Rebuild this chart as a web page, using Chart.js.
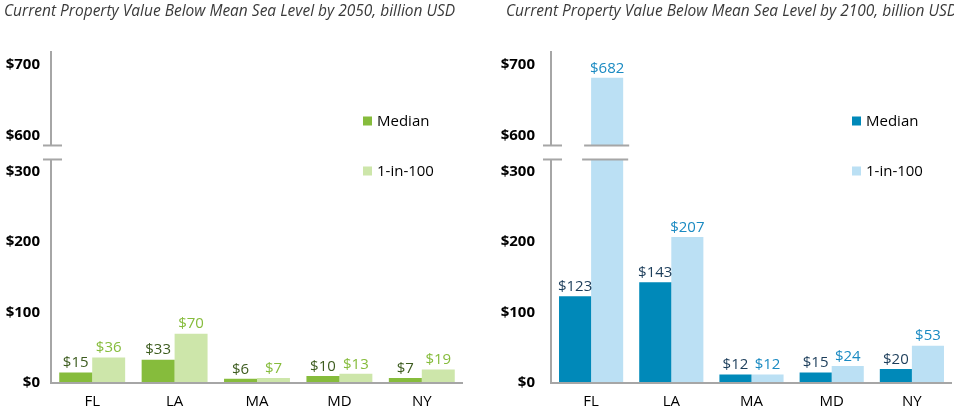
<!DOCTYPE html>
<html>
<head>
<meta charset="utf-8">
<script src="https://cdn.jsdelivr.net/npm/chart.js@4.4.1/dist/chart.umd.min.js"></script>
<style>
  html, body { margin: 0; padding: 0; background: #fff; }
  #wrap { display: flex; width: 954px; height: 409px; overflow: hidden; }
  .panel { width: 477px; height: 409px; position: relative; }
  canvas { display: block; }
</style>
</head>
<body>
<div id="wrap">
  <div class="panel"><canvas id="c1" width="477" height="409"></canvas></div>
  <div class="panel"><canvas id="c2" width="477" height="409"></canvas></div>
</div>
<script>
// ---- data ----
const categories = ['FL', 'LA', 'MA', 'MD', 'NY'];
const seriesNames = ['Median', '1-in-100'];
const median2050 = [15, 33, 6, 10, 7];
const flood2050 = [36, 70, 7, 13, 19];
const median2100 = [123, 143, 12, 15, 20];
const flood2100 = [682, 207, 12, 24, 53];
const yTickValues = [0, 100, 200, 300, 600, 700];
const title2050 = 'Current Property Value Below Mean Sea Level by 2050, billion USD';
const title2100 = 'Current Property Value Below Mean Sea Level by 2100, billion USD';

// ---- broken linear scale ----
class BrokenScale extends Chart.LinearScale {
  buildTicks() {
    return this.options.tickValues.map(v => ({ value: v }));
  }
  _k() {
    const o = this.options;
    return (this.bottom - this.top - o.gapPx) / ((o.lowMax - this.min) + (this.max - o.highMin));
  }
  getPixelForValue(v) {
    if (v === null || v === undefined || isNaN(v)) return NaN;
    const o = this.options, k = this._k();
    if (v <= o.lowMax) return this.bottom - (v - this.min) * k;
    if (v >= o.highMin) return this.top + (this.max - v) * k;
    const yLow = this.bottom - (o.lowMax - this.min) * k;
    return yLow - (v - o.lowMax) / (o.highMin - o.lowMax) * o.gapPx;
  }
  getValueForPixel(p) {
    const o = this.options, k = this._k();
    const yLow = this.bottom - (o.lowMax - this.min) * k;
    const yHigh = yLow - o.gapPx;
    if (p >= yLow) return this.min + (this.bottom - p) / k;
    if (p <= yHigh) return this.max - (p - this.top) / k;
    return o.lowMax + (yLow - p) / o.gapPx * (o.highMin - o.lowMax);
  }
}
BrokenScale.id = 'broken';
BrokenScale.defaults = Chart.LinearScale.defaults;
Chart.register(BrokenScale);

const AXIS_COLOR = '#a6a6a6';

const decorPlugin = {
  id: 'decor',
  afterDatasetsDraw(chart) {
    const ctx = chart.ctx;
    const ys = chart.scales.y;
    const o = ys.options;
    const pHigh = ys.getPixelForValue(o.highMin);
    const pLow = ys.getPixelForValue(o.lowMax);
    const { left, right, top, bottom } = chart.chartArea;
    ctx.save();
    const hline = (x1, x2, y) => {
      ctx.beginPath(); ctx.moveTo(x1, y); ctx.lineTo(x2, y); ctx.stroke();
    };
    ctx.strokeStyle = AXIS_COLOR;
    ctx.lineWidth = 2;
    // breaks on tall bars
    chart.data.datasets.forEach((ds, i) => {
      const meta = chart.getDatasetMeta(i);
      meta.data.forEach((bar, j) => {
        if (ds.data[j] > o.lowMax) {
          const w = bar.width, bx = bar.x - w / 2;
          ctx.fillStyle = '#fff';
          ctx.fillRect(bx - 1, pHigh, w + 2, pLow - pHigh);
          hline(bx - 7, bx + w + 6, pHigh);
          hline(bx - 9, bx + w + 5, pLow);
        }
      });
    });
    // y axis with break
    ctx.beginPath(); ctx.moveTo(left, top); ctx.lineTo(left, pHigh); ctx.stroke();
    ctx.beginPath(); ctx.moveTo(left, pLow); ctx.lineTo(left, bottom); ctx.stroke();
    hline(left - 8, left + 11, pHigh);
    hline(left - 8, left + 11, pLow);
    // x axis
    hline(left - 1, right, bottom);

    // data labels
    ctx.font = '15px "Open Sans"';
    ctx.textAlign = 'center';
    ctx.textBaseline = 'bottom';
    chart.data.datasets.forEach((ds, i) => {
      const meta = chart.getDatasetMeta(i);
      ctx.fillStyle = ds.labelColor;
      meta.data.forEach((bar, j) => {
        ctx.fillText('$' + ds.data[j], bar.x, bar.y - 2);
      });
    });

    // legend
    ctx.textAlign = 'left';
    ctx.textBaseline = 'middle';
    ctx.font = '15px "Open Sans"';
    chart.data.datasets.forEach((ds, i) => {
      const lx = right - 100;
      const ly = top + 70 + i * 50;
      ctx.fillStyle = ds.backgroundColor;
      ctx.fillRect(lx, ly - 4.5, 9, 9);
      ctx.fillStyle = '#000';
      ctx.fillText(ds.label, lx + 14, ly + 1);
    });

    // title
    const t = chart.options.plugins.decor;
    ctx.font = 'italic 15.5px "Open Sans"';
    ctx.fillStyle = '#3a3a3a';
    ctx.textBaseline = 'alphabetic';
    ctx.fillText(t.text, t.x, 16);
    ctx.restore();
  }
};

function makeChart(id, med, flood, colors, title, titleX, axisW, padRight, tickPad) {
  return new Chart(document.getElementById(id), {
    type: 'bar',
    data: {
      labels: categories,
      datasets: [
        { label: seriesNames[0], data: med, backgroundColor: colors[0], labelColor: colors[2],
          categoryPercentage: 0.8, barPercentage: 1.0 },
        { label: seriesNames[1], data: flood, backgroundColor: colors[1], labelColor: colors[3],
          categoryPercentage: 0.8, barPercentage: 1.0 }
      ]
    },
    options: {
      responsive: false,
      animation: false,
      layout: { padding: { left: 0, right: padRight, top: 51, bottom: 0 } },
      plugins: {
        legend: { display: false },
        tooltip: { enabled: false },
        title: { display: false },
        decor: { text: title, x: titleX }
      },
      scales: {
        x: {
          grid: { display: false, drawTicks: false },
          border: { display: false },
          ticks: { color: '#000', font: { family: 'Open Sans', size: 15 }, padding: 10 },
          afterFit: s => { s.height = 26; }
        },
        y: {
          type: 'broken',
          min: 0, max: 720,
          lowMax: 317, highMin: 586, gapPx: 14,
          tickValues: yTickValues,
          grid: { display: false, drawTicks: false },
          border: { display: false },
          ticks: { color: '#000', font: { family: 'Open Sans', size: 15, weight: 'bold' },
                   padding: tickPad, callback: v => '$' + v, autoSkip: false },
          afterFit: s => { s.width = axisW; }
        }
      }
    },
    plugins: [decorPlugin]
  });
}

makeChart('c1', median2050, flood2050, ['#86bc3c', '#cde6aa', '#3d5c1f', '#86bc3c'],
  title2050, 4, 51, 14, 11);
makeChart('c2', median2100, flood2100, ['#0089b9', '#bbe0f4', '#1c3d5a', '#1a8ac2'],
  title2100, 29, 74, 2, 16);
</script>
</body>
</html>
